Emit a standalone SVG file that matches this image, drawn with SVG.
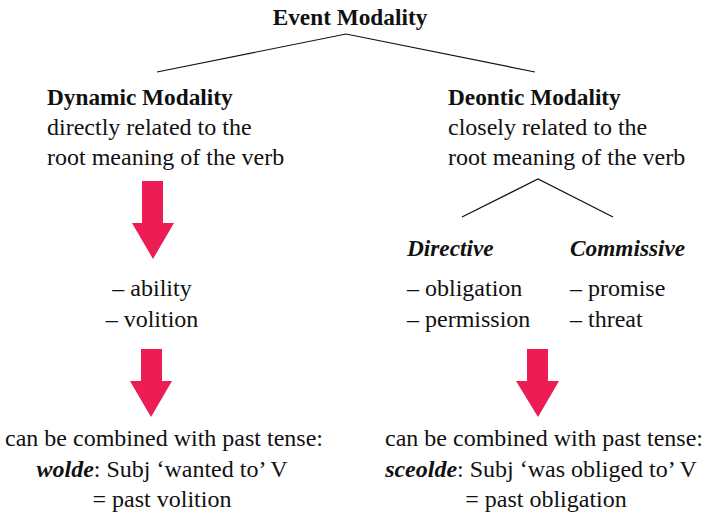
<svg xmlns="http://www.w3.org/2000/svg" width="706" height="518" viewBox="0 0 706 518">
  <style>
    text { font-family: "Liberation Serif", "Times New Roman", serif; font-size: 24px; fill: #111; }
    .b { font-weight: bold; font-size: 23.3px; }
    .bi { font-weight: bold; font-style: italic; font-size: 23.3px; }
    tspan.bi { font-size: 24px; }
    .mid { text-anchor: middle; }
    .edge { stroke: #111; stroke-width: 1.2; fill: none; }
    .arrow { fill: #EC1C54; }
  </style>
  <rect width="706" height="518" fill="#fff"/>

  <!-- tree branches and arrows -->
  <g id="connectors">
    <polyline class="edge" points="157,72 346,34 535,72"/>
    <polyline class="edge" points="462,217 538,179 613,217"/>
    <polygon class="arrow" points="142,181 163,181 163,223 174,223 153,259 132,223 142,223"/>
    <polygon class="arrow" points="141,349 162,349 162,381 172,381 151,417 130,381 141,381"/>
    <polygon class="arrow" points="527,349 548,349 548,381 559,381 538,417 516,381 527,381"/>
  </g>

  <g id="event-modality">
    <text class="b mid" x="350" y="25">Event Modality</text>
  </g>

  <g id="dynamic-modality">
    <text class="b" x="47" y="105">Dynamic Modality</text>
    <text x="47" y="135">directly related to the</text>
    <text x="47" y="165">root meaning of the verb</text>
  </g>

  <g id="deontic-modality">
    <text class="b" x="448" y="105">Deontic Modality</text>
    <text x="448" y="135">closely related to the</text>
    <text x="448" y="165">root meaning of the verb</text>
  </g>

  <g id="dynamic-types">
    <text class="mid" x="152" y="296">– ability</text>
    <text class="mid" x="152" y="327">– volition</text>
  </g>

  <g id="directive">
    <text class="bi" x="407" y="256">Directive</text>
    <text x="407" y="296">– obligation</text>
    <text x="407" y="327">– permission</text>
  </g>

  <g id="commissive">
    <text class="bi" x="570" y="256">Commissive</text>
    <text x="570" y="296">– promise</text>
    <text x="570" y="327">– threat</text>
  </g>

  <g id="dynamic-past">
    <text class="mid" x="164" y="446">can be combined with past tense:</text>
    <text class="mid" x="162" y="477"><tspan class="bi">wolde</tspan>: Subj ‘wanted to’ V</text>
    <text class="mid" x="162" y="507">= past volition</text>
  </g>

  <g id="deontic-past">
    <text class="mid" x="544" y="446">can be combined with past tense:</text>
    <text class="mid" x="541" y="477"><tspan class="bi">sceolde</tspan>: Subj ‘was obliged to’ V</text>
    <text class="mid" x="546" y="507">= past obligation</text>
  </g>
</svg>
